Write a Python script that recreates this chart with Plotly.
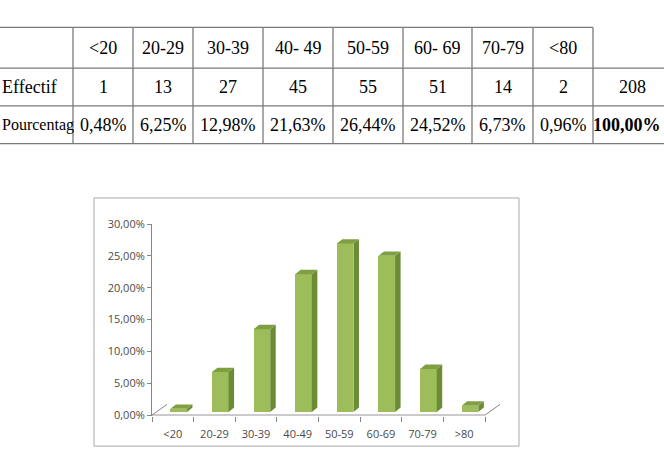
import plotly.graph_objects as go

# ---------------- data ----------------
table_header = ["<20", "20-29", "30-39", "40- 49", "50-59", "60- 69", "70-79", "<80", ""]
table_counts = ["1", "13", "27", "45", "55", "51", "14", "2", "208"]
table_pcts = ["0,48%", "6,25%", "12,98%", "21,63%", "26,44%", "24,52%", "6,73%", "0,96%", "100,00%"]
row_labels = ["Effectif", "Pourcentag"]

chart_cats = ["<20", "20-29", "30-39", "40-49", "50-59", "60-69", "70-79", ">80"]
chart_values = [0.48, 6.25, 12.98, 21.63, 26.44, 24.52, 6.73, 0.96]
y_ticks = [0, 5, 10, 15, 20, 25, 30]

# ---------------- geometry helpers ----------------
W, H = 664, 455


def px(x):
    return x / W


def py(y):
    return 1 - y / H


CAT = 41.625           # px per category
PPU = 197 / 30.0       # px per percent unit
X0, Y0 = 152, 420      # pixel of (-0.5, 0)
XR = [-0.5, 7.9]
YR = [-0.1, 30]
dom_x = [px(X0), px(X0 + (XR[1] - XR[0]) * CAT)]
dom_y = [py(Y0 + 0.1 * PPU), py(Y0 - 30 * PPU)]

BASE = 0.5
BW = 0.4
OFF = -0.06
DX = 5.5 / CAT
DY = 4.6 / PPU

FRONT = "#9DBD5B"
SIDE = "#6B8B34"
TOP = "#809F42"
AXC = "#868686"

pos = list(range(len(chart_cats)))

fig = go.Figure()

fig.add_trace(go.Bar(
    x=pos, y=chart_values, base=[BASE] * len(pos), width=BW, offset=OFF,
    marker=dict(color=FRONT, line=dict(width=0)), showlegend=False,
))

sx, sy, tx, ty = [], [], [], []
for i, v in zip(pos, chart_values):
    xl = i + OFF
    xr = xl + BW
    top = BASE + v
    sx += [xr, xr + DX, xr + DX, xr, xr, None]
    sy += [BASE, BASE + DY, top + DY, top, BASE, None]
    tx += [xl, xl + DX, xr + DX, xr, xl, None]
    ty += [top, top + DY, top + DY, top, top, None]

fig.add_trace(go.Scatter(x=sx, y=sy, mode="lines", fill="toself", fillcolor=SIDE,
                         line=dict(width=0, color=SIDE), showlegend=False, hoverinfo="skip"))
fig.add_trace(go.Scatter(x=tx, y=ty, mode="lines", fill="toself", fillcolor=TOP,
                         line=dict(width=0, color=TOP), showlegend=False, hoverinfo="skip"))

shapes = []
# floor lines
fd_x = 15 / CAT
fd_y = 11 / PPU
shapes.append(dict(type="line", xref="x", yref="y", x0=-0.5, y0=0, x1=7.5, y1=0,
                   line=dict(color=AXC, width=1)))
shapes.append(dict(type="line", xref="x", yref="y", x0=-0.5, y0=0, x1=-0.5 + fd_x, y1=fd_y,
                   line=dict(color=AXC, width=1)))
shapes.append(dict(type="line", xref="x", yref="y", x0=7.5, y0=0, x1=7.5 + fd_x, y1=fd_y,
                   line=dict(color=AXC, width=1)))

# chart border
shapes.append(dict(type="rect", xref="paper", yref="paper", x0=px(94), y0=py(452), x1=px(519), y1=py(196),
                   line=dict(color="#AAAAAA", width=1), fillcolor="rgba(0,0,0,0)", layer="below"))

# ---------------- table ----------------
TL = "#7A7A7A"
col_edges = [73, 133, 193, 263, 333, 403, 472, 533, 593, 670]
row_edges = [20, 62, 101, 140]
shapes.append(dict(type="line", xref="paper", yref="paper", x0=0, y0=py(20), x1=px(593), y1=py(20),
                   line=dict(color=TL, width=1.3)))
for ry in row_edges[1:]:
    shapes.append(dict(type="line", xref="paper", yref="paper", x0=0, y0=py(ry), x1=1, y1=py(ry),
                       line=dict(color=TL, width=1.3)))
for cx in col_edges[:-1]:
    shapes.append(dict(type="line", xref="paper", yref="paper", x0=px(cx), y0=py(20), x1=px(cx), y1=py(140),
                       line=dict(color=TL, width=1.3)))

annotations = []
tfont = dict(family="Liberation Serif, Times New Roman, serif", size=18, color="#000000")
rows = [table_header, table_counts, table_pcts]
for r, row in enumerate(rows):
    yc = (row_edges[r] + row_edges[r + 1]) / 2
    for c, txt in enumerate(row):
        if not txt:
            continue
        if c == len(row) - 1:
            annotations.append(dict(x=px(663), y=py(yc), xref="paper", yref="paper",
                                    text=("<b>%s</b>" % txt) if r == 2 else txt,
                                    showarrow=False, xanchor="right" if r == 2 else "center",
                                    yanchor="middle", font=tfont))
            if r == 1:
                annotations[-1]["x"] = px(632)
            continue
        xc = (col_edges[c] + col_edges[c + 1]) / 2
        annotations.append(dict(x=px(xc), y=py(yc), xref="paper", yref="paper", text=txt,
                                showarrow=False, xanchor="center", yanchor="middle", font=tfont))
annotations.append(dict(x=px(0), y=py((row_edges[1] + row_edges[2]) / 2), xref="paper", yref="paper",
                        text=row_labels[0], showarrow=False, xanchor="left", yanchor="middle", font=tfont))
annotations.append(dict(x=px(0), y=py((row_edges[2] + row_edges[3]) / 2), xref="paper", yref="paper",
                        text=row_labels[1], showarrow=False, xanchor="left", yanchor="middle",
                        font=dict(tfont, size=16)))

lfont = dict(family="Open Sans, Lato, sans-serif", size=11, color="#4A4A4A")

fig.update_layout(
    width=W, height=H,
    margin=dict(l=0, r=0, t=0, b=0),
    paper_bgcolor="white", plot_bgcolor="white",
    shapes=shapes, annotations=annotations,
    bargap=0,
    xaxis=dict(
        domain=dom_x, range=XR, showgrid=False, zeroline=False, showline=False,
        tickmode="array", tickvals=pos, ticktext=chart_cats,
        ticks="outside", ticklen=8, tickcolor="rgba(0,0,0,0)",
        tickfont=lfont,
        minor=dict(tickmode="array", tickvals=[b - 0.5 for b in range(len(pos) + 1)],
                   ticks="outside", ticklen=5, tickcolor=AXC, showgrid=False),
        fixedrange=True,
    ),
    yaxis=dict(
        domain=dom_y, range=YR, showgrid=False, zeroline=False,
        showline=True, linecolor=AXC, linewidth=1,
        tickmode="array", tickvals=y_ticks,
        ticktext=[("%.2f" % v).replace(".", ",") + "%" for v in y_ticks],
        ticks="outside", ticklen=4, tickcolor=AXC, tickfont=lfont,
        fixedrange=True,
    ),
)

fig.write_html("out.html")
